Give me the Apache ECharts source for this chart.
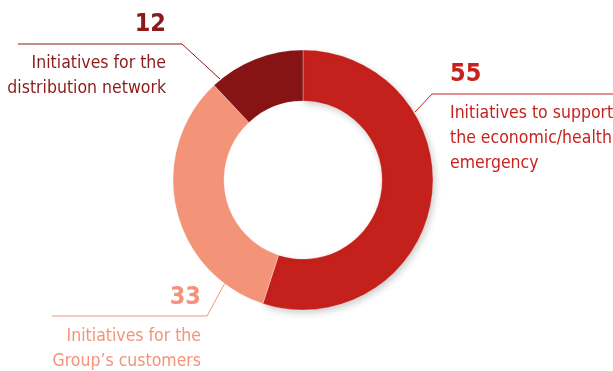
<!DOCTYPE html>
<html>
<head>
<meta charset="utf-8">
<script src="https://cdn.jsdelivr.net/npm/echarts@6/dist/echarts.min.js"></script>
<style>html,body{margin:0;padding:0;background:#fff}#c{width:613px;height:371px}</style>
</head>
<body>
<div id="c"></div>
<script>
const categories = ["Initiatives to support\nthe economic/health\nemergency", "Initiatives for the\nGroup’s customers", "Initiatives for the\ndistribution network"];
const values = [55, 33, 12];
const sliceColors = ["#c4201c", "#f39378", "#861414"];
const textColors = ["#c8221f", "#f4937a", "#8c1a1a"];

// label placement (styling only)
const labelPos = [
  { x: 450, y: 59, align: 'left', line: [[415, 112], [432, 94], [613, 94]] },
  { x: 201, y: 282, align: 'right', line: [[225, 283], [207, 316], [52, 316]] },
  { x: 166, y: 9, align: 'right', line: [[220, 79], [182, 44], [18, 44]] }
];

const FONT = "'DejaVu Sans Condensed', 'Liberation Sans Narrow', sans-serif";
const chart = echarts.init(document.getElementById('c'), null, { renderer: 'canvas' });

const data = values.map((v, i) => ({
  value: v,
  name: categories[i],
  itemStyle: i === 0
    ? { color: sliceColors[i], shadowBlur: 7, shadowColor: 'rgba(0,0,0,0.2)', shadowOffsetX: 2, shadowOffsetY: 3 }
    : { color: sliceColors[i] },
  label: {
    color: textColors[i],
    rich: {
      v: { fontSize: 25, fontWeight: 'bold', lineHeight: 30, color: textColors[i], fontFamily: FONT, align: labelPos[i].align },
      g: { fontSize: 4, lineHeight: 11.5 },
      t: { fontSize: 17.5, lineHeight: 25, color: textColors[i], fontFamily: FONT, align: labelPos[i].align }
    }
  },
  labelLine: { lineStyle: { color: textColors[i], width: 1 } }
}));

chart.setOption({
  animation: false,
  series: [{
    type: 'pie',
    center: [303, 180],
    radius: [79, 130],
    startAngle: 90,
    clockwise: true,
    avoidLabelOverlap: false,
    itemStyle: { borderColor: 'rgba(255,255,255,0.6)', borderWidth: 0.5 },
    label: {
      show: true,
      position: 'outside',
      fontFamily: FONT,
      formatter: function (p) {
        const lines = p.name.split('\n').map(s => '{t|' + s + '}').join('\n');
        return '{v|' + p.value + '}\n{g| }\n' + lines;
      }
    },
    labelLine: { show: true, length: 15, length2: 20 },
    labelLayout: function (params) {
      const lp = labelPos[params.dataIndex];
      return {
        x: lp.x,
        y: lp.y,
        align: lp.align,
        verticalAlign: 'top',
        labelLinePoints: lp.line
      };
    },
    data: data
  }]
});
</script>
</body>
</html>
